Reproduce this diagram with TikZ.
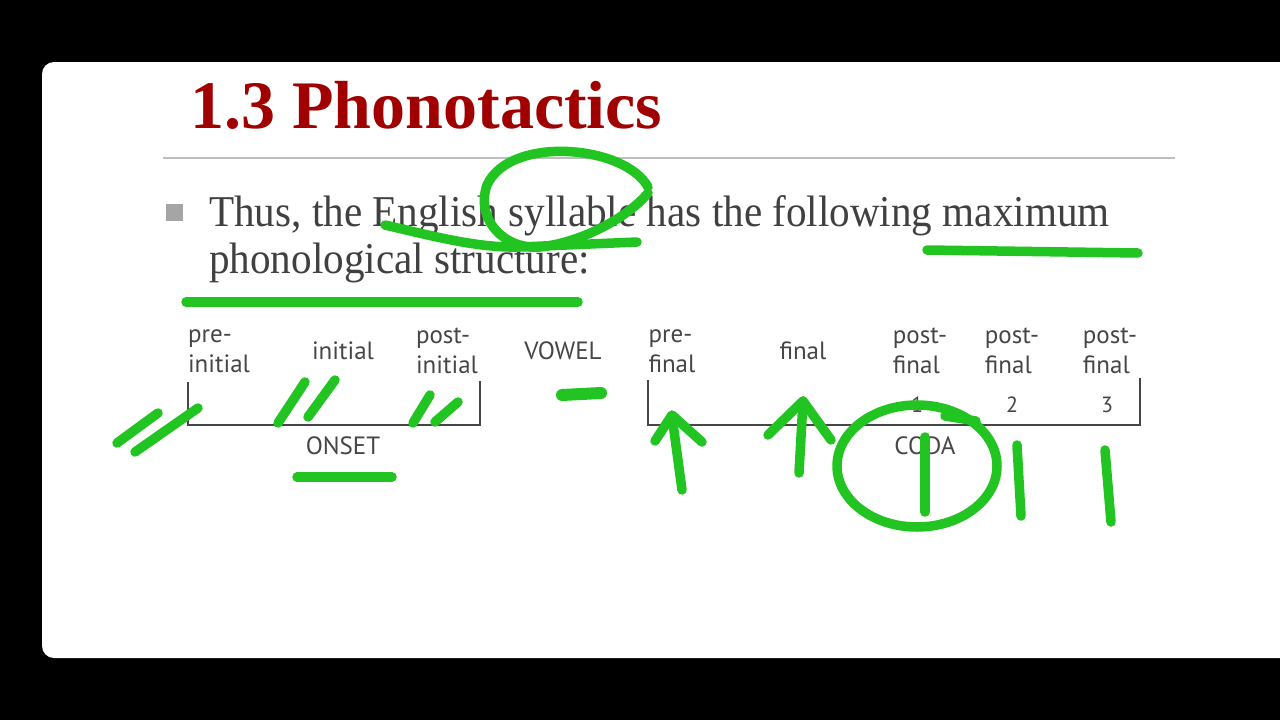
\documentclass[tikz,border=0pt]{standalone}
\usepackage{fontspec}
\setmainfont{Liberation Serif}
\newfontfamily\bodyfont[FakeStretch=0.935]{Liberation Serif}
\newfontfamily\slotfont{PT Sans}
\definecolor{titlered}{RGB}{160,0,0}
\definecolor{bodygray}{RGB}{64,64,64}
\definecolor{slotgray}{RGB}{70,70,70}
\definecolor{rulegray}{RGB}{190,190,190}
\definecolor{bulletgray}{RGB}{165,165,165}
\definecolor{inkgreen}{RGB}{34,196,34}
\tikzset{
  slot/.style={font=\slotfont\fontsize{25}{30}\selectfont, text=slotgray, inner sep=0pt, align=left},
  bracket/.style={draw=slotgray, line width=1.6pt},
  ink/.style={draw=inkgreen, line width=9.5pt, line cap=round, line join=round},
}
\begin{document}
\begin{tikzpicture}[x=1pt,y=-1pt]
  \useasboundingbox (0,0) rectangle (1280,720);
  \fill[black] (0,0) rectangle (1280,720);
  \fill[white, rounded corners=12pt] (42,62) rectangle (1300,658);
  % title and text
  \node[anchor=base west, inner sep=0pt, text=titlered,
        font=\bfseries\fontsize{68}{80}\selectfont] (title) at (190,128) {1.3 Phonotactics};
  \draw[rulegray, line width=1.5pt] (163,158) -- (1175,158);
  \fill[bulletgray] (166,204) rectangle (183,221);
  \node[anchor=base west, inner sep=0pt, text=bodygray, font=\bodyfont\fontsize{44}{47}\selectfont]
    (line1) at (209,226) {Thus, the English syllable has the following maximum};
  \node[anchor=base west, inner sep=0pt, text=bodygray, font=\bodyfont\fontsize{44}{47}\selectfont]
    (line2) at (209,273) {phonological structure:};
  % slot labels
  \foreach \name/\x/\txt in {preinit/219/pre-\\initial, init/343/initial,
      postinit/447/post-\\initial, vowel/563/VOWEL, prefin/672/pre-\\final,
      fin/803/final, postfinA/920/post-\\final, postfinB/1012/post-\\final,
      postfinC/1110/post-\\final}
    { \node[slot] (\name) at (\x,351) {\txt}; }
  \foreach \name/\x/\txt in {numA/917/1, numB/1012/2, numC/1107/3}
    { \node[slot, font=\slotfont\fontsize{22}{26}\selectfont] (\name) at (\x,405) {\txt}; }
  % brackets
  \draw[bracket] (188,382) -- (188,425) -- (480,425) -- (480,381);
  \draw[bracket] (648,380) -- (648,425) -- (1140,425) -- (1140,378);
  \node[slot] (onset) at (343,446) {ONSET};
  \node[slot] (coda) at (925,446) {CODA};
  % green pen marks
  \draw[ink] (648,187) .. controls (625,145) and (510,135) .. (487,185)
             .. controls (475,220) and (505,250) .. (540,247)
             .. controls (585,242) and (630,215) .. (648,193);
  \draw[ink] (385,225) .. controls (440,238) and (480,248) .. (520,247) -- (637,242);
  \draw[ink] (927,250) -- (1138,253);
  \draw[ink] (186,302) -- (578,302);
  \foreach \xa/\ya/\xb/\yb in {117/443/158/413, 135/452/198/408, 278/423/305/382,
      308/417/335/380, 413/423/430/395, 435/422/458/402}
    { \draw[ink] (\xa,\ya) -- (\xb,\yb); }
  \draw[ink, line width=12pt] (562,395) -- (601,393);
  \draw[ink] (297,477) -- (392,477);
  \draw[ink] (682,490) -- (672,416);
  \draw[ink] (655,441) -- (672,415) -- (702,442);
  \draw[ink] (799,473) -- (803,401);
  \draw[ink] (768,435) -- (803,401) -- (831,440);
  \draw[ink] (917,466) ellipse [x radius=80, y radius=61];
  \draw[ink] (945,416) -- (976,421);
  \draw[ink] (925,437) -- (925,512);
  \draw[ink] (1017,445) -- (1021,516);
  \draw[ink] (1105,450) -- (1111,522);
\end{tikzpicture}
\end{document}
